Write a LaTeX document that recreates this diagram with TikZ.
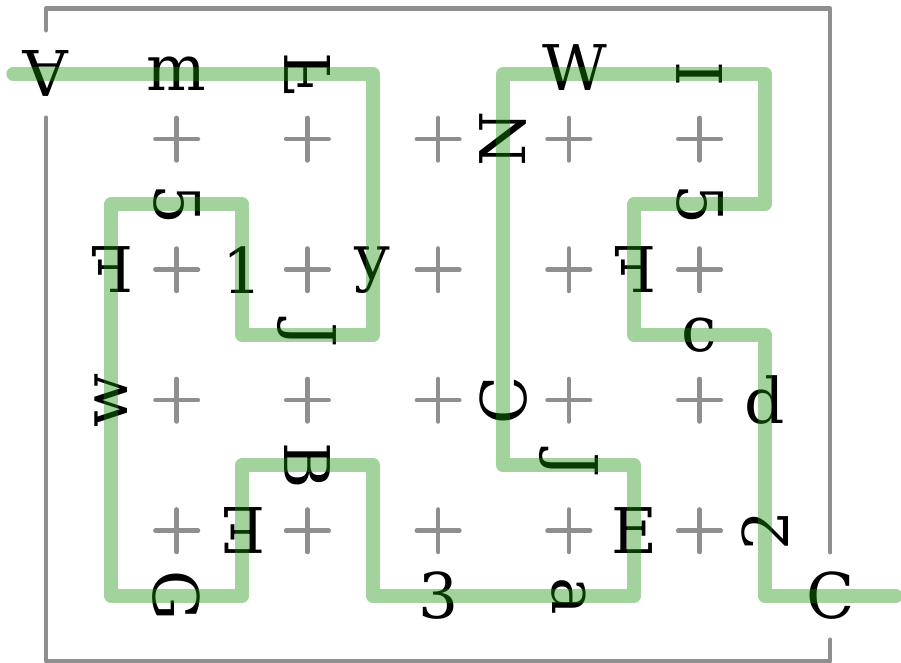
\documentclass[tikz,border=0pt]{standalone}
\usepackage{fontspec}
\usepackage{graphicx}
\newfontfamily\dvs{DejaVu Serif}
\definecolor{pathgreen}{RGB}{25,145,10}
\definecolor{gridgray}{RGB}{143,143,143}
\begin{document}
\begin{tikzpicture}[x=65.35pt,y=-65.25pt,
  letter/.style={inner sep=0pt, outer sep=0pt, font=\fontsize{63pt}{63pt}\selectfont\dvs},
  wall/.style={draw=gridgray, line width=4.5pt, line cap=round, line join=round},
  crossmark/.style={draw=gridgray, line width=4.5pt, line cap=round},
  route/.style={draw=pathgreen, draw opacity=0.4, line width=14pt, line cap=round, line join=round}]
\useasboundingbox (-0.7039,-0.1333) rectangle (13.083,10.012);
% border with openings
\draw[wall] (0,0.33) -- (0,0) -- (12,0) -- (12,8.33);
\draw[wall] (0,1.67) -- (0,10) -- (12,10) -- (12,9.67);
% plus marks
\foreach \i in {2,4,6,8,10}
  \foreach \j in {2,4,6,8}
    \draw[crossmark] (\i-0.326,\j) -- (\i+0.326,\j) (\i,\j-0.326) -- (\i,\j+0.326);
% letters
\node[letter, rotate=180] (tA) at (0,1) {A};
\node[letter] (tm) at (2,1) {m};
\node[letter, rotate=90] (tF1) at (4,1) {\reflectbox{F}};
\node[letter] (tW) at (8.09,0.9) {W};
\node[letter, rotate=90] (tI) at (10,1) {I};
\node[letter, rotate=90] (tN) at (7,2) {N};
\node[letter, rotate=-90] (t5a) at (2,3) {5};
\node[letter, rotate=-90] (t5b) at (10,3) {5};
\node[letter] (tF2) at (1,4) {\reflectbox{F}};
\node[letter] (t1) at (3,4) {1};
\node[letter] (ty) at (5,4) {y};
\node[letter] (tF3) at (9,4) {\reflectbox{F}};
\node[letter, rotate=-90] (tJ1) at (4,5) {J};
\node[letter] (tc) at (10,5) {c};
\node[letter, rotate=90] (tw) at (1,6) {w};
\node[letter, rotate=90] (tC1) at (7,6) {C};
\node[letter] (td) at (11,6) {d};
\node[letter, rotate=-90] (tB) at (4,7) {B};
\node[letter, rotate=-90] (tJ2) at (8,7) {J};
\node[letter, rotate=180] (tE1) at (3,8) {E};
\node[letter] (tE2) at (9,8) {E};
\node[letter, rotate=90] (t2) at (11,8) {2};
\node[letter, rotate=-90] (tG) at (2,9) {G};
\node[letter] (t3) at (6,9) {3};
\node[letter, rotate=-90] (ta) at (8,9) {a};
\node[letter] (tC2) at (12,9) {C};
% solution route
\coordinate (start) at (-0.5,1);
\coordinate (finish) at (13,9);
\draw[route] (start) -- (5,1) -- (5,5) -- (3,5) -- (3,3) -- (1,3) -- (1,9) -- (3,9) -- (3,7) -- (5,7) -- (5,9) -- (9,9) -- (9,7) -- (7,7) -- (7,1) -- (11,1) -- (11,3) -- (9,3) -- (9,5) -- (11,5) -- (11,9) -- (finish);
\end{tikzpicture}
\end{document}
